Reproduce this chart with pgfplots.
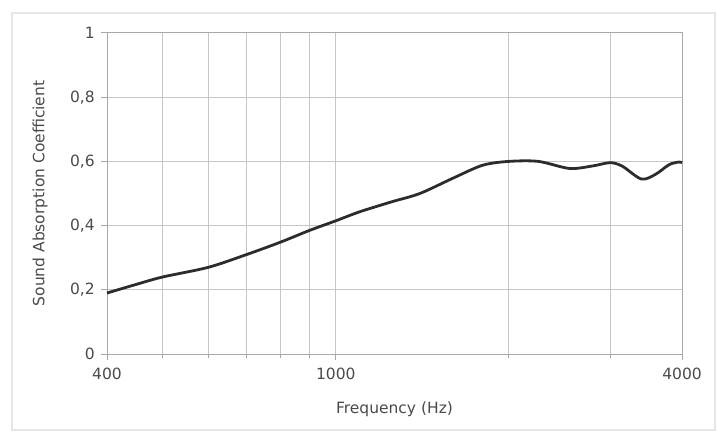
\documentclass[border=0pt]{standalone}
\usepackage{pgfplots}
\pgfplotsset{compat=1.18}
\usepackage{fontspec}
\setmainfont{DejaVu Sans}

\definecolor{gridgray}{HTML}{C6C6C6}
\definecolor{axisgray}{HTML}{A8A8A8}
\definecolor{textgray}{HTML}{4A4A4A}
\definecolor{curve}{HTML}{2C2C2C}
\definecolor{framegray}{HTML}{E6E6E6}

\begin{document}
\fontsize{15.5}{18}\selectfont
\begin{tikzpicture}
\begin{axis}[
    name=ax,
    scale only axis,
    width=575pt,
    height=321pt,
    xmode=log,
    xmin=400, xmax=4000,
    ymin=0, ymax=1,
    xtick={400,1000,4000},
    xticklabels={400,1000,4000},
    minor xtick={500,600,700,800,900,2000,3000},
    ytick={0,0.2,0.4,0.6,0.8,1},
    yticklabels={0,{0,2},{0,4},{0,6},{0,8},1},
    xtick pos=bottom,
    ytick pos=left,
    grid=both,
    major grid style={gridgray, line width=1pt},
    minor grid style={gridgray, line width=1pt},
    axis line style={axisgray, line width=1pt},
    tick style={axisgray, line width=1pt},
    tick align=outside,
    major tick length=6pt,
    minor tick length=4pt,
    tick label style={text=textgray},
    yticklabel style={xshift=-1pt},
    xticklabel style={yshift=-3pt},
    label style={text=textgray},
    xlabel={Frequency (Hz)},
    xlabel style={at={(axis description cs:0.5,0)}, anchor=center, yshift=-55pt},
    clip=false,
]
\addplot[curve, line width=2.8pt, smooth, tension=0.5] coordinates {
    (400,0.190) (450,0.217) (500,0.240) (600,0.270) (700,0.310)
    (800,0.348) (900,0.385) (1000,0.415) (1100,0.443) (1250,0.474)
    (1400,0.500) (1600,0.548) (1800,0.588) (2000,0.600) (2250,0.600)
    (2550,0.578) (2800,0.586) (3000,0.596) (3150,0.585) (3400,0.545)
    (3600,0.560) (3800,0.590) (3950,0.598) (4000,0.596)
};
\end{axis}
\node[text=textgray, rotate=90, anchor=center] at ([xshift=-67pt]ax.west) {Sound Absorption Coefficient};
\draw[framegray, line width=1.5pt] ([shift={(-95pt,-76pt)}]ax.south west) rectangle ([shift={(33pt,20pt)}]ax.north east);
\path ([shift={(-107pt,-79pt)}]ax.south west) rectangle ([shift={(35pt,33pt)}]ax.north east);
\end{tikzpicture}
\end{document}
